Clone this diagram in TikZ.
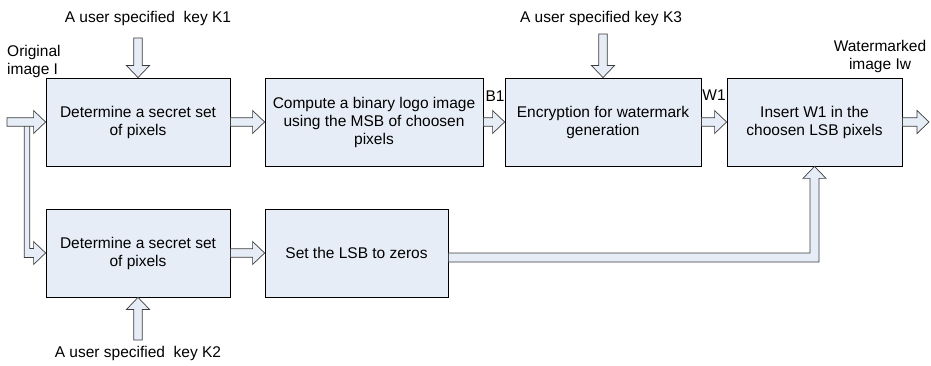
\documentclass[tikz,border=0pt]{standalone}
\usepackage{fontspec}
\setmainfont{Liberation Sans}
\usetikzlibrary{calc,positioning}
\definecolor{boxblue}{RGB}{231,237,247}
\definecolor{edgegray}{RGB}{60,60,60}
% hollow block arrow from #1 to #2
\newcommand{\blockarrow}[2]{%
  \draw[barrow] let \p1=(#1), \p2=(#2), \n1={atan2(\y2-\y1,\x2-\x1)} in
    ($(\p1)+(\n1+90:4.25pt)$) -- ($(\p2)+(\n1+180:12pt)+(\n1+90:4.25pt)$)
    -- ($(\p2)+(\n1+180:12pt)+(\n1+90:11.5pt)$) -- (\p2)
    -- ($(\p2)+(\n1+180:12pt)+(\n1-90:11.5pt)$)
    -- ($(\p2)+(\n1+180:12pt)+(\n1-90:4.25pt)$) -- ($(\p1)+(\n1-90:4.25pt)$) -- cycle;}

\begin{document}
\begin{tikzpicture}[x=1pt,y=-1pt,
    box/.style={draw=black, fill=boxblue, line width=0.8pt, minimum height=88pt,
      inner sep=0pt, align=center, font=\fontsize{15.5}{18}\selectfont},
    lbl/.style={inner sep=0pt, align=center, font=\fontsize{15.5}{18}\selectfont},
    barrow/.style={draw=edgegray, fill=boxblue, line width=0.7pt, line join=miter}]
    \useasboundingbox (0,0) rectangle (931,366);
    %% boxes
    \node[box, minimum width=184pt] (secretA) at (138,122) {Determine a secret set\\of pixels};
    \node[box, minimum width=218pt] (logo) at (374,122) {Compute a binary logo image\\using the MSB of choosen\\pixels};
    \node[box, minimum width=196pt] (encrypt) at (603,122) {Encryption for watermark\\generation};
    \node[box, minimum width=175pt] (insert) at (814.5,122) {Insert W1 in the\\choosen LSB pixels};
    \node[box, minimum width=184pt] (secretB) at (138,253) {Determine a secret set\\of pixels};
    \node[box, minimum width=183pt] (lsb) at (356.5,253) {Set the LSB to zeros};
    %% labels
    \node[lbl, align=left, anchor=west] (orig) at (7,61) {Original\\image I};
    \node[lbl] (key1) at (148,18) {A user specified\ \ key K1};
    \node[lbl] (key3) at (601,18) {A user specified key K3};
    \node[lbl] (key2) at (138,353) {A user specified\ \ key K2};
    \node[lbl] (b1) at (495,96) {B1};
    \node[lbl] (w1) at (714,95) {W1};
    \node[lbl] (wm) at (880,56) {Watermarked\\image Iw};
    %% free ends
    \coordinate (in) at (7,122);
    \coordinate (split) at (27,125);
    \coordinate (out) at (929,122);
    \coordinate (k1top) at (138,38);
    \coordinate (k3top) at (603,34);
    \coordinate (k2bot) at (138,340);
    %% branch down to the second box
    \draw[barrow] let \p1=(split), \p2=(secretB.west) in
      (\x1-2.75pt,\y1) -- (\x1-2.75pt,\y2-4.5pt) -- (\x2-12pt,\y2-4.5pt) -- (\x2-12pt,\y2-11.5pt)
      -- (\p2) -- (\x2-12pt,\y2+11.5pt) -- (\x2-12pt,\y2+4.5pt) -- (\x1+2.75pt,\y2+4.5pt)
      -- (\x1+2.75pt,\y1) -- cycle;
    %% straight arrows
    \blockarrow{in}{secretA.west}
    \blockarrow{secretA.east}{logo.west}
    \blockarrow{logo.east}{encrypt.west}
    \blockarrow{encrypt.east}{insert.west}
    \blockarrow{insert.east}{out}
    \blockarrow{k1top}{secretA.north}
    \blockarrow{k3top}{encrypt.north}
    \blockarrow{k2bot}{secretB.south}
    \blockarrow{secretB.east}{lsb.west}
    %% long way back up to the insert box
    \draw[barrow] let \p1=(lsb.east), \p2=(insert.south) in
      (\x1,\y1) -- (\x2-4.5pt,\y1) -- (\x2-4.5pt,\y2-12pt) -- (\x2-11.5pt,\y2-12pt) -- (\p2)
      -- (\x2+11.5pt,\y2-12pt) -- (\x2+4.5pt,\y2-12pt) -- (\x2+4.5pt,\y1-9pt) -- (\x1,\y1-9pt) -- cycle;
\end{tikzpicture}
\end{document}
